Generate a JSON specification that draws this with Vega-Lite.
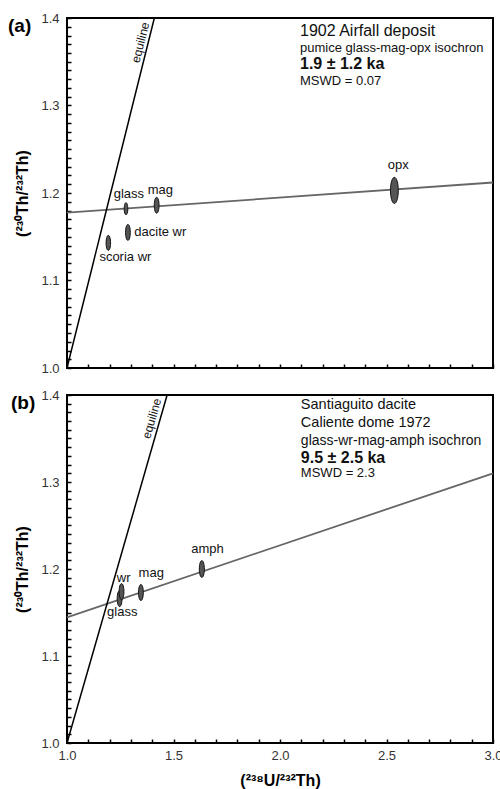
{
  "$schema": "https://vega.github.io/schema/vega-lite/v6.json",
  "background": "white",
  "padding": {"left": 7, "top": 11, "right": 0, "bottom": 0},
  "spacing": 12,
  "config": {
    "view": {"stroke": "black", "strokeWidth": 2},
    "font": "Liberation Sans",
    "axis": {
      "grid": false,
      "domain": false,
      "offset": -4,
      "ticks": true,
      "tickColor": "black",
      "tickWidth": 1.5,
      "tickSize": 4,
      "labelColor": "#333",
      "labelFontSize": 13,
      "labelFont": "Liberation Sans",
      "labelOverlap": false,
      "labelFlush": false,
      "titleFont": "Liberation Sans",
      "titleFontSize": 16,
      "titleFontWeight": "bold",
      "titleColor": "black"
    },
    "text": {"font": "Liberation Sans", "color": "#111"}
  },
  "vconcat": [
    {
      "width": 426,
      "height": 350,
      "encoding": {
        "x": {
          "field": "x", "type": "quantitative",
          "scale": {"domain": [1, 3], "nice": false, "zero": false},
          "axis": {
            "values": [1, 1.1, 1.2, 1.3, 1.4, 1.5, 1.6, 1.7, 1.8, 1.9, 2, 2.1, 2.2, 2.3, 2.4, 2.5, 2.6, 2.7, 2.8, 2.9, 3],
            "labels": false,
            "title": null
          }
        },
        "y": {
          "field": "y", "type": "quantitative",
          "scale": {"domain": [1, 1.4], "nice": false, "zero": false},
          "axis": {
            "values": [1, 1.01, 1.02, 1.03, 1.04, 1.05, 1.06, 1.07, 1.08, 1.09, 1.1, 1.11, 1.12, 1.13, 1.14, 1.15, 1.16, 1.17, 1.18, 1.19, 1.2, 1.21, 1.22, 1.23, 1.24, 1.25, 1.26, 1.27, 1.28, 1.29, 1.3, 1.31, 1.32, 1.33, 1.34, 1.35, 1.36, 1.37, 1.38, 1.39, 1.4],
            "labelExpr": "abs(datum.value*10-round(datum.value*10))<0.001 ? format(datum.value,'.1f') : ''",
            "labelPadding": 8,
            "title": "(²³⁰Th/²³²Th)",
            "titlePadding": 10
          }
        }
      },
      "layer": [
        {
          "data": {"values": [{"x": 1.0, "y": 1.1775}, {"x": 3.0, "y": 1.212}]},
          "mark": {"type": "line", "color": "#666", "strokeWidth": 1.8},
          "encoding": {}
        },
        {
          "data": {"values": [{"x": 1.0, "y": 1.0}, {"x": 1.41, "y": 1.4}]},
          "mark": {"type": "line", "color": "black", "strokeWidth": 1.5},
          "encoding": {}
        },
        {
          "data": {"values": [
            {"sample": "glass", "x": 1.277, "y": 1.182, "err": 0.0069},
            {"sample": "mag", "x": 1.421, "y": 1.186, "err": 0.0091},
            {"sample": "dacite wr", "x": 1.286, "y": 1.155, "err": 0.0091},
            {"sample": "scoria wr", "x": 1.194, "y": 1.143, "err": 0.0086},
            {"sample": "opx", "x": 2.537, "y": 1.203, "err": 0.0149}
          ]},
          "mark": {"type": "point", "shape": "M0,-1A0.3,1,0,1,1,0,1A0.3,1,0,1,1,0,-1Z", "filled": true, "fill": "#555", "stroke": "#111", "strokeWidth": 1, "opacity": 1},
          "encoding": {
            "size": {"field": "err", "type": "quantitative", "scale": {"type": "pow", "exponent": 2, "domain": [0, 0.02], "range": [0, 1225]}, "legend": null}
          }
        },
        {
          "data": {"values": [
            {"label": "glass", "x": 1.219, "y": 1.199},
            {"label": "mag", "x": 1.379, "y": 1.204},
            {"label": "dacite wr", "x": 1.316, "y": 1.155},
            {"label": "scoria wr", "x": 1.152, "y": 1.127},
            {"label": "opx", "x": 2.506, "y": 1.232}
          ]},
          "mark": {"type": "text", "align": "left", "baseline": "middle", "fontSize": 13},
          "encoding": {"text": {"field": "label"}}
        },
        {
          "data": {"values": [{"label": "equiline", "x": 1.345, "y": 1.372}]},
          "mark": {"type": "text", "align": "center", "baseline": "middle", "fontSize": 12, "angle": 284},
          "encoding": {"text": {"field": "label"}}
        },
        {
          "data": {"values": [
            {"label": "1902 Airfall deposit", "kind": "head", "x": 2.094, "y": 1.3847},
            {"label": "pumice glass-mag-opx isochron", "kind": "sub", "x": 2.094, "y": 1.3653},
            {"label": "1.9 ± 1.2 ka", "kind": "age", "x": 2.094, "y": 1.3474},
            {"label": "MSWD = 0.07", "kind": "sub", "x": 2.094, "y": 1.3283}
          ]},
          "layer": [
            {"transform": [{"filter": "datum.kind=='head'"}], "mark": {"type": "text", "align": "left", "baseline": "middle", "fontSize": 16}, "encoding": {"text": {"field": "label"}}},
            {"transform": [{"filter": "datum.kind=='sub'"}], "mark": {"type": "text", "align": "left", "baseline": "middle", "fontSize": 13}, "encoding": {"text": {"field": "label"}}},
            {"transform": [{"filter": "datum.kind=='age'"}], "mark": {"type": "text", "align": "left", "baseline": "middle", "fontSize": 16, "fontWeight": "bold"}, "encoding": {"text": {"field": "label"}}}
          ]
        },
        {
          "data": {"values": [{"label": "(a)", "x": 1.0, "y": 1.4}]},
          "mark": {"type": "text", "align": "left", "baseline": "middle", "fontSize": 19, "fontWeight": "bold", "dx": -59, "dy": 8, "color": "black"},
          "encoding": {"text": {"field": "label"}}
        }
      ]
    },
    {
      "width": 426,
      "height": 348,
      "encoding": {
        "x": {
          "field": "x", "type": "quantitative",
          "scale": {"domain": [1, 3], "nice": false, "zero": false},
          "axis": {
            "values": [1, 1.1, 1.2, 1.3, 1.4, 1.5, 1.6, 1.7, 1.8, 1.9, 2, 2.1, 2.2, 2.3, 2.4, 2.5, 2.6, 2.7, 2.8, 2.9, 3],
            "labelExpr": "abs(datum.value*2-round(datum.value*2))<0.001 ? format(datum.value,'.1f') : ''",
            "labelPadding": 6,
            "title": "(²³⁸U/²³²Th)",
            "titlePadding": 10
          }
        },
        "y": {
          "field": "y", "type": "quantitative",
          "scale": {"domain": [1, 1.4], "nice": false, "zero": false},
          "axis": {
            "values": [1, 1.01, 1.02, 1.03, 1.04, 1.05, 1.06, 1.07, 1.08, 1.09, 1.1, 1.11, 1.12, 1.13, 1.14, 1.15, 1.16, 1.17, 1.18, 1.19, 1.2, 1.21, 1.22, 1.23, 1.24, 1.25, 1.26, 1.27, 1.28, 1.29, 1.3, 1.31, 1.32, 1.33, 1.34, 1.35, 1.36, 1.37, 1.38, 1.39, 1.4],
            "labelExpr": "abs(datum.value*10-round(datum.value*10))<0.001 ? format(datum.value,'.1f') : ''",
            "labelPadding": 8,
            "title": "(²³⁰Th/²³²Th)",
            "titlePadding": 10
          }
        }
      },
      "layer": [
        {
          "data": {"values": [{"x": 1.0, "y": 1.1445}, {"x": 3.0, "y": 1.31}]},
          "mark": {"type": "line", "color": "#666", "strokeWidth": 1.8},
          "encoding": {}
        },
        {
          "data": {"values": [{"x": 1.0, "y": 1.0}, {"x": 1.47, "y": 1.4}]},
          "mark": {"type": "line", "color": "black", "strokeWidth": 1.5},
          "encoding": {}
        },
        {
          "data": {"values": [
            {"sample": "glass", "x": 1.247, "y": 1.166, "err": 0.0092},
            {"sample": "wr", "x": 1.256, "y": 1.174, "err": 0.0092},
            {"sample": "mag", "x": 1.347, "y": 1.173, "err": 0.0092},
            {"sample": "amph", "x": 1.633, "y": 1.2, "err": 0.0096}
          ]},
          "mark": {"type": "point", "shape": "M0,-1A0.3,1,0,1,1,0,1A0.3,1,0,1,1,0,-1Z", "filled": true, "fill": "#555", "stroke": "#111", "strokeWidth": 1, "opacity": 1},
          "encoding": {
            "size": {"field": "err", "type": "quantitative", "scale": {"type": "pow", "exponent": 2, "domain": [0, 0.02], "range": [0, 1225]}, "legend": null}
          }
        },
        {
          "data": {"values": [
            {"label": "wr", "x": 1.234, "y": 1.19},
            {"label": "mag", "x": 1.336, "y": 1.195},
            {"label": "amph", "x": 1.583, "y": 1.223},
            {"label": "glass", "x": 1.188, "y": 1.151}
          ]},
          "mark": {"type": "text", "align": "left", "baseline": "middle", "fontSize": 13},
          "encoding": {"text": {"field": "label"}}
        },
        {
          "data": {"values": [{"label": "equiline", "x": 1.398, "y": 1.373}]},
          "mark": {"type": "text", "align": "center", "baseline": "middle", "fontSize": 12, "angle": 286},
          "encoding": {"text": {"field": "label"}}
        },
        {
          "data": {"values": [
            {"label": "Santiaguito dacite", "kind": "head", "x": 2.098, "y": 1.3885},
            {"label": "Caliente dome 1972", "kind": "head", "x": 2.098, "y": 1.3675},
            {"label": "glass-wr-mag-amph isochron", "kind": "sub", "x": 2.098, "y": 1.3475},
            {"label": "9.5 ± 2.5 ka", "kind": "age", "x": 2.098, "y": 1.3272},
            {"label": "MSWD = 2.3", "kind": "sub2", "x": 2.098, "y": 1.31}
          ]},
          "layer": [
            {"transform": [{"filter": "datum.kind=='head'"}], "mark": {"type": "text", "align": "left", "baseline": "middle", "fontSize": 14.5}, "encoding": {"text": {"field": "label"}}},
            {"transform": [{"filter": "datum.kind=='sub'"}], "mark": {"type": "text", "align": "left", "baseline": "middle", "fontSize": 14}, "encoding": {"text": {"field": "label"}}},
            {"transform": [{"filter": "datum.kind=='sub2'"}], "mark": {"type": "text", "align": "left", "baseline": "middle", "fontSize": 13}, "encoding": {"text": {"field": "label"}}},
            {"transform": [{"filter": "datum.kind=='age'"}], "mark": {"type": "text", "align": "left", "baseline": "middle", "fontSize": 16, "fontWeight": "bold"}, "encoding": {"text": {"field": "label"}}}
          ]
        },
        {
          "data": {"values": [{"label": "(b)", "x": 1.0, "y": 1.4}]},
          "mark": {"type": "text", "align": "left", "baseline": "middle", "fontSize": 19, "fontWeight": "bold", "dx": -56, "dy": 8, "color": "black"},
          "encoding": {"text": {"field": "label"}}
        }
      ]
    }
  ]
}
